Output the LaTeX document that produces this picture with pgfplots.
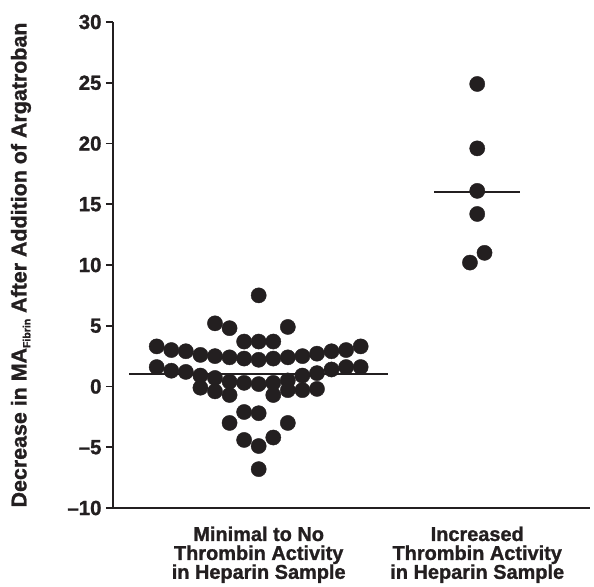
\documentclass[border=0pt]{standalone}
\usepackage{fontspec}
\setmainfont{Liberation Sans}[BoldFeatures={FakeBold=1.2}]
\usepackage{pgfplots}
\pgfplotsset{compat=1.18}
\definecolor{ink}{HTML}{231F20}

\begin{document}
\begin{tikzpicture}
\begin{axis}[
  scale only axis,
  width=477bp, height=486bp,
  xmin=0, xmax=3.274,
  ymin=-10, ymax=30,
  axis lines*=left,
  axis line style={ink, line width=1.8bp},
  ytick={-10,-5,...,30},
  yticklabels={\textendash10,\textendash5,0,5,10,15,20,25,30},
  tick align=outside,
  major tick length=7bp,
  tick style={ink, line width=1.6bp},
  yticklabel style={font=\bfseries\fontsize{20.5}{20.5}\selectfont, text=ink, xshift=-1bp},
  xtick={1,2.5},
  xticklabels={Minimal to No\\Thrombin Activity\\in Heparin Sample,
               Increased\\Thrombin Activity\\in Heparin Sample},
  x tick style={draw=none},
  xticklabel style={font=\bfseries\fontsize{20}{19}\selectfont, text=ink,
                    align=center, yshift=-8bp},
  extra x ticks={1,2,3},
  extra x tick labels={},
  extra x tick style={major tick length=3bp, tick style={ink, line width=1bp}},
  ylabel={Decrease in MA\raisebox{-0.35ex}{\fontsize{10.5}{10.5}\selectfont Fibrin} After Addition of Argatroban},
  ylabel style={font=\bfseries\fontsize{21.5}{21.5}\selectfont, text=ink,
                at={(axis description cs:-0.193,0.50)}, anchor=center},
  clip=false,
]
% minimal to no thrombin activity
\addplot[only marks, mark=*, mark size=7.6bp, mark options={fill=ink, draw=ink}] coordinates {
  (1.0,7.5)
  (0.7,5.2) (0.8,4.8) (1.2,4.9)
  (0.9,3.7) (1.0,3.7) (1.1,3.7)
  (0.3,3.3) (0.4,3.0) (0.5,2.9) (0.6,2.6) (0.7,2.5) (0.8,2.4) (0.9,2.3) (1.0,2.2)
  (1.1,2.3) (1.2,2.4) (1.3,2.5) (1.4,2.7) (1.5,2.9) (1.6,3.0) (1.7,3.3)
  (0.3,1.6) (0.4,1.3) (0.5,1.2) (0.6,0.9) (0.7,0.7) (0.8,0.4) (0.9,0.3) (1.0,0.2)
  (1.1,0.3) (1.2,0.5) (1.3,0.9) (1.4,1.1) (1.5,1.4) (1.6,1.6) (1.7,1.6)
  (0.6,-0.1) (0.7,-0.4) (0.8,-0.7) (1.1,-0.7) (1.2,-0.3) (1.3,-0.3) (1.4,-0.2)
  (0.9,-2.1) (1.0,-2.2)
  (0.8,-3.0) (1.2,-3.0)
  (0.9,-4.4) (1.1,-4.2) (1.0,-4.9)
  (1.0,-6.8)
};
% increased thrombin activity
\addplot[only marks, mark=*, mark size=7.6bp, mark options={fill=ink, draw=ink}] coordinates {
  (2.5,24.9) (2.5,19.6) (2.5,16.1) (2.5,14.2) (2.55,11.0) (2.45,10.2)
};
% medians
\addplot[ink, line width=2.2bp] coordinates {(0.11,1.0) (1.89,1.0)};
\addplot[ink, line width=2.2bp] coordinates {(2.205,16.0) (2.795,16.0)};
\end{axis}
\path (current axis.south west) ++(-113bp,-77bp) rectangle ++(594bp,585bp);
\end{tikzpicture}
\end{document}
